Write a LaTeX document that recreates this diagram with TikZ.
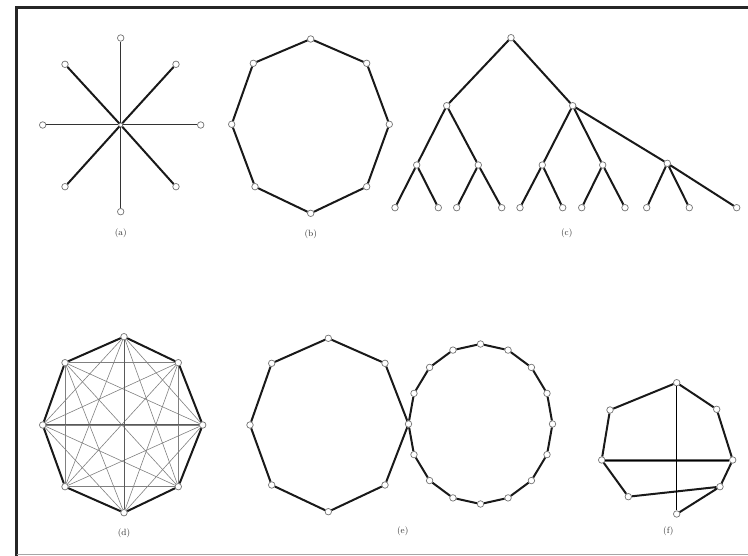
\documentclass[tikz,border=0pt]{standalone}
\begin{document}
\begin{tikzpicture}[x=1pt,y=-1pt,
  v/.style={circle,draw=black!55,fill=white,line width=0.7pt,inner sep=0pt,minimum size=6.5pt},
  heavy/.style={line width=2pt,black!90},
  lightln/.style={line width=1pt,black!80},
  chord/.style={line width=0.6pt,black!50},
  lab/.style={font=\fontsize{9}{10}\selectfont,inner sep=0pt,text=black!80},
  frameln/.style={line width=3pt,black!85}]
\useasboundingbox (0,0) rectangle (748,556);
% frame
\coordinate (fTL) at (16.5,7.5);
\coordinate (fTR) at (748,7.5);
\coordinate (fBL) at (16.5,556);
\draw[frameln] (fTR) -- (fTL) -- (fBL);
\coordinate (gL) at (16.5,554);
\coordinate (gR) at (748,554);
\draw[line width=0.8pt,black!35] (gL) -- (gR);

% ---------- (a) star ----------
\node[v,minimum size=4pt] (a0) at (120.7,125) {};
\node[v] (a1) at (120.7,38) {};
\node[v] (a2) at (176,64.3) {};
\node[v] (a3) at (200.7,125) {};
\node[v] (a4) at (176,186.7) {};
\node[v] (a5) at (120.7,211.7) {};
\node[v] (a6) at (65,186.7) {};
\node[v] (a7) at (42.7,125) {};
\node[v] (a8) at (65,64.3) {};
\foreach \k in {1,3,5,7} \draw[lightln] (a0) -- (a\k);
\foreach \k in {2,4,6,8} \draw[heavy] (a0) -- (a\k);
\node[lab] (la) at (120.7,233) {(a)};

% ---------- (b) octagon ----------
\node[v] (b1) at (310.7,39) {};
\node[v] (b2) at (366.7,63.3) {};
\node[v] (b3) at (389.3,124.3) {};
\node[v] (b4) at (366.7,186.7) {};
\node[v] (b5) at (310.7,213.3) {};
\node[v] (b6) at (255,186.7) {};
\node[v] (b7) at (231.7,124.3) {};
\node[v] (b8) at (253.3,63.3) {};
\draw[heavy] (b1)--(b2) (b2)--(b3) (b3)--(b4) (b4)--(b5) (b5)--(b6) (b6)--(b7) (b7)--(b8) (b8)--(b1);
\node[lab] (lb) at (310.7,234) {(b)};

% ---------- (c) tree ----------
\node[v] (c0) at (511,37.7) {};
\node[v] (c1) at (446.7,105.7) {};
\node[v] (c2) at (572.7,105.7) {};
\node[v] (c11) at (416.7,165) {};
\node[v] (c12) at (478.3,165) {};
\node[v] (c21) at (542.3,165) {};
\node[v] (c22) at (602.7,165) {};
\node[v] (c23) at (667.3,163.3) {};
\node[v] (l1) at (395,207.7) {};
\node[v] (l2) at (438.3,207.7) {};
\node[v] (l3) at (456.7,207.7) {};
\node[v] (l4) at (501.7,207.7) {};
\node[v] (l5) at (520,207.7) {};
\node[v] (l6) at (562.7,207.7) {};
\node[v] (l7) at (581.7,207.7) {};
\node[v] (l8) at (625,207.7) {};
\node[v] (l9) at (646.7,207.7) {};
\node[v] (l10) at (689.3,207.7) {};
\node[v] (l11) at (736.7,207.7) {};
\draw[heavy] (c0)--(c1) (c0)--(c2)
  (c1)--(c11) (c1)--(c12)
  (c2)--(c21) (c2)--(c22) (c2)--(c23)
  (c11)--(l1) (c11)--(l2) (c12)--(l3) (c12)--(l4)
  (c21)--(l5) (c21)--(l6) (c22)--(l7) (c22)--(l8)
  (c23)--(l9) (c23)--(l10) (c23)--(l11);
\node[lab] (lc) at (566.7,233) {(c)};

% ---------- (d) complete graph ----------
\node[v] (d1) at (124,336.7) {};
\node[v] (d2) at (178.3,362.7) {};
\node[v] (d3) at (202.7,425) {};
\node[v] (d4) at (178.3,486.7) {};
\node[v] (d5) at (124,512.7) {};
\node[v] (d6) at (65,486.7) {};
\node[v] (d7) at (42.7,425) {};
\node[v] (d8) at (65,362.7) {};
\foreach \i in {1,...,7}{%
  \pgfmathtruncatemacro\dnext{\i+1}%
  \foreach \j in {\dnext,...,8}{\draw[chord] (d\i) -- (d\j);}}
\draw[line width=1pt,black!65] (d1)--(d5) (d3)--(d7);
\draw[heavy] (d1)--(d2) (d2)--(d3) (d3)--(d4) (d4)--(d5) (d5)--(d6) (d6)--(d7) (d7)--(d8) (d8)--(d1);
\node[lab] (ld) at (124,533.3) {(d)};

% ---------- (e) two cycles ----------
\foreach \k in {0,...,15}
  \node[v] (r\k) at ({480.5+72*cos(22.5*\k)},{424-80*sin(22.5*\k)}) {};
\node[v] (e1) at (328.3,338.3) {};
\node[v] (e2) at (385,363.3) {};
\node[v] (e4) at (385,485) {};
\node[v] (e5) at (328.3,511.7) {};
\node[v] (e6) at (271.7,485) {};
\node[v] (e7) at (250,425) {};
\node[v] (e8) at (271.7,363.3) {};
\draw[heavy] (e1)--(e2) (e2)--(r8) (r8)--(e4) (e4)--(e5) (e5)--(e6) (e6)--(e7) (e7)--(e8) (e8)--(e1);
\foreach \k in {0,...,15}{%
  \pgfmathtruncatemacro\knext{mod(\k+1,16)}%
  \draw[heavy] (r\k) -- (r\knext);}
\node[lab] (le) at (402.7,531.7) {(e)};

% ---------- (f) ----------
\node[v] (f1) at (676.7,382.7) {};
\node[v] (f2) at (610,410) {};
\node[v] (f3) at (601.7,460) {};
\node[v] (f4) at (628.3,496.7) {};
\node[v] (f5) at (676.7,514) {};
\node[v] (f6) at (720,486.7) {};
\node[v] (f7) at (732.7,460) {};
\node[v] (f8) at (716.7,409.3) {};
\draw[heavy] (f1)--(f2) (f2)--(f3) (f3)--(f4) (f4)--(f6) (f6)--(f5) (f6)--(f7) (f7)--(f8) (f8)--(f1);
\draw[line width=3pt,black!60] (f3)--(f7);
\draw[line width=1pt,black] (f3)--(f7);
\draw[line width=1pt,black] (f1)--(f5);
\node[lab] (lf) at (668.3,531.7) {(f)};
\end{tikzpicture}
\end{document}
